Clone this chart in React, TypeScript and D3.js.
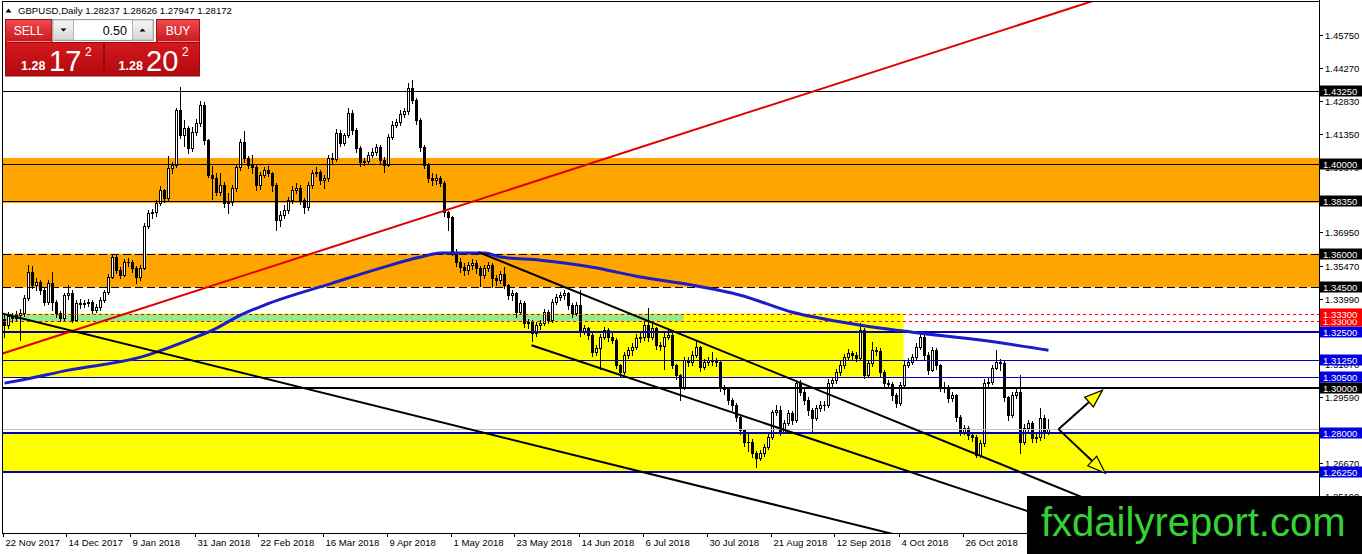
import React from "react";
import * as d3 from "d3";

// ---------------- DATA ----------------
const symbolTitle = "GBPUSD,Daily";
const ohlcText = ["1.28237", "1.28626", "1.27947", "1.28172"];
const bidPrice = 1.28172;
const lotSize = "0.50";

const firstOpen = 1.331;
const closes = [
  1.3282, 1.3322, 1.3313, 1.3326, 1.3335, 1.3402, 1.3518, 1.346, 1.3473, 1.3438,
  1.3384, 1.3469, 1.3384, 1.3335, 1.3313, 1.3415, 1.3424, 1.3304, 1.338, 1.3376,
  1.3382, 1.3384, 1.3348, 1.3362, 1.3393, 1.3429, 1.3496, 1.3585, 1.3527, 1.3505,
  1.3563, 1.3561, 1.3536, 1.3496, 1.3536, 1.3723, 1.3781, 1.3785, 1.3826, 1.3884,
  1.3848, 1.3982, 1.3995, 1.424, 1.4129, 1.416, 1.4071, 1.4142, 1.4182, 1.4263,
  1.4107, 1.3951, 1.3937, 1.3875, 1.3906, 1.3826, 1.383, 1.3893, 1.3986, 1.4098,
  1.4026, 1.3995, 1.3986, 1.3906, 1.3951, 1.3973, 1.3959, 1.3906, 1.375, 1.3772,
  1.3794, 1.3839, 1.3884, 1.3893, 1.3839, 1.3808, 1.3906, 1.3959, 1.3964, 1.3928,
  1.3937, 1.4026, 1.4024, 1.4138, 1.4093, 1.4129, 1.4227, 1.4151, 1.4071, 1.4009,
  1.4013, 1.404, 1.4053, 1.4075, 1.4017, 1.3995, 1.412, 1.4174, 1.4187, 1.4223,
  1.4236, 1.4339, 1.4285, 1.4196, 1.4075, 1.3995, 1.3937, 1.3928, 1.3937, 1.3915,
  1.3785, 1.3763, 1.3607, 1.3563, 1.354, 1.3527, 1.3549, 1.3558, 1.3536, 1.3505,
  1.3536, 1.3549, 1.3491, 1.3482, 1.3509, 1.346, 1.3415, 1.3424, 1.3339, 1.338,
  1.329, 1.3295, 1.3246, 1.3282, 1.329, 1.3339, 1.3304, 1.3384, 1.3406, 1.3415,
  1.3424, 1.3371, 1.3335, 1.3371, 1.325, 1.3268, 1.3237, 1.3161, 1.3179, 1.3228,
  1.3259, 1.3228, 1.3215, 1.3103, 1.3072, 1.3148, 1.317, 1.3184, 1.3224, 1.3228,
  1.3282, 1.3228, 1.3268, 1.3192, 1.319, 1.3228, 1.3237, 1.3103, 1.3059, 1.3001,
  1.3125, 1.3117, 1.3148, 1.3184, 1.3094, 1.3117, 1.3125, 1.3121, 1.3117, 1.3005,
  1.2996, 1.2947, 1.2925, 1.2871, 1.2813, 1.276, 1.2762, 1.2711, 1.2688, 1.2711,
  1.2737, 1.2782, 1.2893, 1.2902, 1.2804, 1.2844, 1.2889, 1.2858, 1.3023, 1.2983,
  1.2947, 1.2902, 1.2867, 1.2911, 1.2925, 1.2927, 1.3023, 1.3036, 1.3072, 1.3103,
  1.3139, 1.3157, 1.3148, 1.3135, 1.3259, 1.3059, 1.3112, 1.317, 1.3168, 1.3072,
  1.3023, 1.3018, 1.2969, 1.2934, 1.3014, 1.3103, 1.3117, 1.3139, 1.3184, 1.3228,
  1.3148, 1.3081, 1.317, 1.3103, 1.3005, 1.3001, 1.2956, 1.2969, 1.2871, 1.2804,
  1.2822, 1.2791, 1.2782, 1.2702, 1.2755, 1.3023, 1.3027, 1.309, 1.3117, 1.3112,
  1.296, 1.288, 1.2969, 1.2983, 1.276, 1.2822, 1.2844, 1.2778, 1.2782, 1.2867,
  1.2804, 1.2817,
];
const highs = [
  1.3335, 1.334, 1.3335, 1.3345, 1.3352, 1.3418, 1.3548, 1.3545, 1.349, 1.3485,
  1.345, 1.3485, 1.3518, 1.3395, 1.3345, 1.3425, 1.346, 1.344, 1.3392, 1.34,
  1.3395, 1.34, 1.3392, 1.3375, 1.3405, 1.344, 1.351, 1.36, 1.3595, 1.354,
  1.3575, 1.358, 1.357, 1.3545, 1.355, 1.3735, 1.3795, 1.38, 1.384, 1.39,
  1.389, 1.4035, 1.401, 1.425, 1.4345, 1.4195, 1.417, 1.4165, 1.42, 1.428,
  1.4275, 1.411, 1.399, 1.396, 1.396, 1.392, 1.387, 1.3905, 1.3995, 1.411,
  1.4147, 1.4035, 1.404, 1.3995, 1.3965, 1.3985, 1.399, 1.3965, 1.3915, 1.379,
  1.3815, 1.3855, 1.39, 1.3915, 1.3905, 1.385, 1.392, 1.3975, 1.3985, 1.3975,
  1.395, 1.404, 1.405, 1.4155, 1.415, 1.414, 1.425, 1.424, 1.416, 1.408,
  1.4025, 1.4055, 1.407, 1.409, 1.4085, 1.403, 1.4135, 1.419, 1.42, 1.424,
  1.425, 1.436, 1.4376, 1.4295, 1.4205, 1.4085, 1.4005, 1.396, 1.3955, 1.3945,
  1.3925, 1.379, 1.377, 1.362, 1.358, 1.356, 1.3565, 1.3575, 1.357, 1.3545,
  1.355, 1.3565, 1.356, 1.3505, 1.3525, 1.354, 1.3465, 1.344, 1.343, 1.3395,
  1.339, 1.331, 1.3305, 1.3295, 1.3305, 1.3355, 1.335, 1.34, 1.342, 1.343,
  1.344, 1.343, 1.338, 1.3385, 1.3438, 1.3282, 1.3275, 1.3245, 1.3195, 1.324,
  1.3275, 1.3268, 1.3255, 1.3225, 1.311, 1.316, 1.3185, 1.32, 1.324, 1.3245,
  1.33, 1.336, 1.3285, 1.3275, 1.3205, 1.3245, 1.327, 1.325, 1.311, 1.3065,
  1.314, 1.314, 1.3165, 1.3215, 1.319, 1.313, 1.314, 1.316, 1.3135, 1.3125,
  1.3015, 1.3, 1.2955, 1.2935, 1.288, 1.282, 1.28, 1.2775, 1.272, 1.2725,
  1.275, 1.2795, 1.2905, 1.2925, 1.292, 1.286, 1.2905, 1.29, 1.3035, 1.3035,
  1.2995, 1.296, 1.291, 1.2925, 1.2945, 1.2945, 1.304, 1.305, 1.3085, 1.312,
  1.3155, 1.3175, 1.3165, 1.316, 1.329, 1.327, 1.3125, 1.3206, 1.3185, 1.318,
  1.308, 1.3035, 1.303, 1.298, 1.303, 1.312, 1.3135, 1.3155, 1.32, 1.3252,
  1.3245, 1.316, 1.3185, 1.318, 1.311, 1.303, 1.3015, 1.2985, 1.2975, 1.288,
  1.2835, 1.283, 1.2805, 1.279, 1.277, 1.304, 1.3045, 1.3105, 1.317, 1.313,
  1.312, 1.2965, 1.2985, 1.3, 1.306, 1.284, 1.286, 1.2855, 1.28, 1.2912,
  1.288, 1.2863,
];
const lows = [
  1.3228, 1.327, 1.3295, 1.33, 1.3215, 1.3322, 1.3395, 1.3448, 1.344, 1.342,
  1.337, 1.3375, 1.3348, 1.332, 1.33, 1.3305, 1.34, 1.3295, 1.3298, 1.336,
  1.3362, 1.3365, 1.3335, 1.334, 1.335, 1.3385, 1.342, 1.349, 1.3515, 1.349,
  1.35, 1.3545, 1.352, 1.347, 1.3485, 1.353, 1.3715, 1.376, 1.377, 1.3815,
  1.383, 1.384, 1.396, 1.3985, 1.4115, 1.408, 1.405, 1.406, 1.413, 1.417,
  1.409, 1.394, 1.3845, 1.386, 1.386, 1.381, 1.3781, 1.3815, 1.388, 1.3975,
  1.401, 1.398, 1.396, 1.3885, 1.389, 1.394, 1.3945, 1.388, 1.3705, 1.3725,
  1.376, 1.378, 1.3825, 1.387, 1.382, 1.378, 1.3795, 1.3895, 1.3945, 1.391,
  1.3893, 1.3925, 1.4005, 1.4015, 1.408, 1.4085, 1.412, 1.4135, 1.4055, 1.399,
  1.3995, 1.4005, 1.403, 1.404, 1.4, 1.3964, 1.399, 1.411, 1.4165, 1.4175,
  1.421, 1.4225, 1.427, 1.418, 1.406, 1.398, 1.392, 1.3905, 1.391, 1.39,
  1.377, 1.3705, 1.3595, 1.3545, 1.352, 1.3505, 1.351, 1.353, 1.3515, 1.3455,
  1.349, 1.3525, 1.345, 1.346, 1.347, 1.3445, 1.34, 1.3395, 1.332, 1.333,
  1.3275, 1.327, 1.321, 1.3235, 1.3265, 1.328, 1.329, 1.3295, 1.3375, 1.3395,
  1.34, 1.3355, 1.332, 1.3325, 1.3235, 1.324, 1.322, 1.3145, 1.315, 1.3085,
  1.322, 1.321, 1.32, 1.309, 1.305, 1.3065, 1.3135, 1.315, 1.3175, 1.3205,
  1.3215, 1.321, 1.322, 1.3175, 1.317, 1.3085, 1.322, 1.309, 1.304, 1.2947,
  1.2995, 1.31, 1.3105, 1.314, 1.3075, 1.3085, 1.3105, 1.3105, 1.31, 1.299,
  1.2975, 1.293, 1.2905, 1.2855, 1.2795, 1.2745, 1.272, 1.2695, 1.265, 1.268,
  1.27, 1.273, 1.2775, 1.288, 1.279, 1.28, 1.2835, 1.284, 1.285, 1.297,
  1.293, 1.288, 1.281, 1.286, 1.29, 1.2905, 1.2915, 1.301, 1.3025, 1.306,
  1.309, 1.313, 1.313, 1.312, 1.3125, 1.3045, 1.305, 1.31, 1.315, 1.3055,
  1.3005, 1.3, 1.295, 1.2916, 1.2925, 1.3005, 1.3095, 1.311, 1.313, 1.3175,
  1.313, 1.3065, 1.3075, 1.3085, 1.299, 1.2985, 1.294, 1.2945, 1.2855, 1.279,
  1.2795, 1.2775, 1.2765, 1.2695, 1.2695, 1.2745, 1.3005, 1.302, 1.3085, 1.308,
  1.2945, 1.286, 1.287, 1.2955, 1.271, 1.275, 1.281, 1.276, 1.276, 1.277,
  1.278, 1.2795,
];

// 200-day moving average read at sample bars
const maBars = [0, 4, 16, 34, 46, 52, 59, 65, 82, 94, 104, 109, 120, 124, 134, 147, 159, 172, 184, 197, 211, 227, 244, 261];
const maValues = [1.3023, 1.3036, 1.3081, 1.3139, 1.3215, 1.3259, 1.3326, 1.3371, 1.3469, 1.3536, 1.3585, 1.3603, 1.3603, 1.3585, 1.3571, 1.354, 1.3496, 1.346, 1.3415, 1.3339, 1.329, 1.325, 1.3215, 1.317];

const dateLabels = ["22 Nov 2017", "14 Dec 2017", "9 Jan 2018", "31 Jan 2018", "22 Feb 2018", "16 Mar 2018", "9 Apr 2018", "1 May 2018", "23 May 2018", "14 Jun 2018", "6 Jul 2018", "30 Jul 2018", "21 Aug 2018", "12 Sep 2018", "4 Oct 2018", "26 Oct 2018"];
const dateBars = [0, 16, 32, 48, 64, 80, 96, 112, 128, 144, 160, 176, 192, 208, 224, 240];

const priceTicks = [1.4575, 1.4427, 1.4283, 1.4135, 1.3987, 1.3839, 1.3695, 1.3547, 1.3399, 1.3251, 1.3107, 1.2959, 1.2815, 1.2667, 1.2519];

const levelPrices = [1.4325, 1.4, 1.3835, 1.36, 1.345, 1.333, 1.33, 1.325, 1.3125, 1.305, 1.3, 1.28, 1.2625];
const levelKinds = ["black", "black", "black", "blackDash", "blackDash", "redDash", "redDash", "blueThick", "blueThin", "blueThin", "blackThick", "blueThick", "blueThick"];

// zones: [low price, high price, end bar (null = to the right edge)]
const orangeZones = [[1.3826, 1.4027], [1.345, 1.36]];
const yellowUpperZone = [1.3051, 1.3334, 224.75];
const greenZone = [1.3298, 1.3331, 169.75];
const yellowLowerZone = [1.2625, 1.28];

// trend lines: [bar1, price1, bar2, price2], drawn from barFrom to barTo
const redLine = [0, 1.3158, 200, 1.4311];
const redRange = [-3, 280];
const longLine = [0, 1.3331, 200, 1.2448];
const longRange = [-3, 260];
const channelUpper = [118.5, 1.3607, 268.25, 1.2523];
const channelUpperRange = [118.5, 285];
const channelLower = [131.75, 1.3192, 260, 1.2427];
const channelLowerRange = [131.75, 285];

const arrowStart = [263.5, 1.2818];
const arrowUpTip = [274.5, 1.2992];
const arrowDownTip = [275.2, 1.2621];

const sellPrice = ["1.28", "17", "2"];
const buyPrice = ["1.28", "20", "2"];
const watermark = "fxdailyreport.com";

// ---------------- LAYOUT ----------------
const W = 1362;
const H = 554;
const PL = 3;
const PR = 1319;
const PT = 1;
const PB = 533;
const FONT = "'Liberation Sans', Arial, sans-serif";

const x = d3.scaleLinear().domain([0, 261]).range([4.5, 1048.5]);
const y = d3.scaleLinear().domain([1.2667, 1.4575]).range([463, 35]);

const levelStyle: Record<string, { color: string; width: number; dash?: string; bg: string }> = {
  black: { color: "#000", width: 1, bg: "#000" },
  blackDash: { color: "#000", width: 1, dash: "8,4", bg: "#000" },
  redDash: { color: "#ff0000", width: 1, dash: "3,3", bg: "#ff0000" },
  blueThick: { color: "#0000b4", width: 2, bg: "#0000e0" },
  blueThin: { color: "#0000b4", width: 1, bg: "#0000e0" },
  blackThick: { color: "#000", width: 2, bg: "#000" },
};

function crisp(v: number, w: number) {
  return w % 2 === 1 ? Math.round(v) + 0.5 : Math.round(v);
}

function linePts(def: number[], range: number[]) {
  const [b1, p1, b2, p2] = def;
  const s = (p2 - p1) / (b2 - b1);
  const pa = p1 + s * (range[0] - b1);
  const pb = p1 + s * (range[1] - b1);
  return { x1: x(range[0]), y1: y(pa), x2: x(range[1]), y2: y(pb) };
}

function Arrow({ from, to, fill }: { from: number[]; to: number[]; fill: string }) {
  const x0 = x(from[0]), y0 = y(from[1]);
  const x1 = x(to[0]), y1 = y(to[1]);
  const dx = x1 - x0, dy = y1 - y0;
  const len = Math.hypot(dx, dy);
  const ux = dx / len, uy = dy / len;
  const nx = -uy, ny = ux;
  const L = 18, hw = 6.5;
  const bx = x1 - ux * L, by = y1 - uy * L;
  const pts = [
    [x1, y1],
    [bx + nx * hw, by + ny * hw],
    [bx - nx * hw, by - ny * hw],
  ];
  return (
    <g>
      <line x1={x0} y1={y0} x2={bx} y2={by} stroke="#000" strokeWidth={2} />
      <polygon points={pts.map((p) => p.join(",")).join(" ")} fill={fill} stroke="#000" strokeWidth={1.2} strokeLinejoin="miter" />
    </g>
  );
}

export default function App() {
  React.useEffect(() => {
    document.body.style.margin = "0";
  }, []);

  const candles = closes.map((c, i) => {
    const o = i === 0 ? firstOpen : closes[i - 1];
    const h = Math.max(highs[i], o, c);
    const l = Math.min(lows[i], o, c);
    const cx = x(i);
    const up = c >= o;
    const yt = Math.round(y(Math.max(o, c))) + 0.5;
    const yb = Math.round(y(Math.min(o, c))) + 0.5;
    return (
      <g key={i}>
        <line x1={cx} x2={cx} y1={Math.round(y(h))} y2={Math.round(y(l)) + 1} stroke="#000" strokeWidth={1} />
        {yb - yt < 1 ? (
          <line x1={cx - 1.5} x2={cx + 1.5} y1={yt} y2={yt} stroke="#000" strokeWidth={1} />
        ) : (
          <rect x={cx - 1} y={yt} width={2} height={yb - yt} fill={up ? "#fff" : "#000"} stroke="#000" strokeWidth={1} />
        )}
      </g>
    );
  });

  const maLine = d3
    .line<number>()
    .x((_, i) => x(maBars[i]))
    .y((v) => y(v))
    .curve(d3.curveMonotoneX)(maValues) as string;

  const zoneRect = (lo: number, hi: number, endBar: number | null, fill: string, key: string) => {
    const x2 = endBar == null ? PR : x(endBar);
    return <rect key={key} x={PL} y={y(hi)} width={x2 - PL} height={y(lo) - y(hi)} fill={fill} />;
  };

  // draw labels in ascending price order so higher ones are on top
  const labelOrder = levelPrices.map((p, i) => i).sort((a, b) => levelPrices[a] - levelPrices[b]);

  const red = linePts(redLine, redRange);
  const lng = linePts(longLine, longRange);
  const chU = linePts(channelUpper, channelUpperRange);
  const chL = linePts(channelLower, channelLowerRange);

  return (
    <svg width={W} height={H} style={{ position: "absolute", left: 0, top: 0, display: "block" }} fontFamily={FONT}>
      <defs>
        <clipPath id="plot">
          <rect x={PL} y={PT} width={PR - PL} height={PB - PT} />
        </clipPath>
        <linearGradient id="btnGrad" x1="0" y1="0" x2="0" y2="1">
          <stop offset="0" stopColor="#ef4b4f" />
          <stop offset="1" stopColor="#c71a1f" />
        </linearGradient>
        <linearGradient id="priceGrad" x1="0" y1="0" x2="0" y2="1">
          <stop offset="0" stopColor="#d4191e" />
          <stop offset="1" stopColor="#b00a0f" />
        </linearGradient>
        <linearGradient id="spinGrad" x1="0" y1="0" x2="0" y2="1">
          <stop offset="0" stopColor="#f6f6f6" />
          <stop offset="1" stopColor="#d6d6d6" />
        </linearGradient>
      </defs>
      <rect x={0} y={0} width={W} height={H} fill="#fff" />

      <g clipPath="url(#plot)">
        {/* zones */}
        {orangeZones.map((z, i) => zoneRect(z[0], z[1], null, "#ffa500", "o" + i))}
        {zoneRect(yellowUpperZone[0], yellowUpperZone[1], yellowUpperZone[2], "#ffff00", "yu")}
        {zoneRect(greenZone[0], greenZone[1], greenZone[2], "#90ee90", "g")}
        {zoneRect(yellowLowerZone[0], yellowLowerZone[1], null, "#ffff00", "yl")}

        {/* candles */}
        <g shapeRendering="crispEdges">{candles}</g>

        {/* horizontal levels */}
        {levelPrices.map((p, i) => {
          const st = levelStyle[levelKinds[i]];
          const yy = crisp(y(p), st.width);
          return (
            <line key={"l" + i} x1={PL} x2={PR} y1={yy} y2={yy} stroke={st.color} strokeWidth={st.width} strokeDasharray={st.dash} shapeRendering="crispEdges" />
          );
        })}
        {/* bid line */}
        <line x1={PL} x2={PR} y1={crisp(y(bidPrice), 1)} y2={crisp(y(bidPrice), 1)} stroke="#c0c0c0" strokeWidth={1} shapeRendering="crispEdges" />

        {/* moving average */}
        <path d={maLine} fill="none" stroke="#1c1cc8" strokeWidth={3} strokeLinejoin="round" />

        {/* trend lines */}
        <line {...red} stroke="#e00000" strokeWidth={2} />
        <line {...lng} stroke="#000" strokeWidth={2} />
        <line {...chU} stroke="#000" strokeWidth={2} />
        <line {...chL} stroke="#000" strokeWidth={2} />

        <Arrow from={arrowStart} to={arrowUpTip} fill="#ffff00" />
        <Arrow from={arrowStart} to={arrowDownTip} fill="#ffff00" />
      </g>

      {/* frame */}
      <rect x={PL - 0.5} y={PT + 0.5} width={PR - PL + 0.5} height={PB - PT} fill="none" stroke="#000" strokeWidth={1} shapeRendering="crispEdges" />
      <line x1={PR + 0.5} x2={PR + 0.5} y1={0} y2={PB} stroke="#000" strokeWidth={1} shapeRendering="crispEdges" />

      {/* price axis ticks */}
      {priceTicks.map((p, i) => {
        const yy = Math.round(y(p)) + 0.5;
        return (
          <g key={"t" + i}>
            <line x1={PR} x2={PR + 4} y1={yy} y2={yy} stroke="#000" shapeRendering="crispEdges" />
            <text x={PR + 6} y={yy + 3.3} fontSize={9.5} fill="#000">
              {p.toFixed(5)}
            </text>
          </g>
        );
      })}
      {/* level labels */}
      {labelOrder.map((i) => {
        const st = levelStyle[levelKinds[i]];
        const yy = y(levelPrices[i]);
        return (
          <g key={"lb" + i}>
            <rect x={PR + 1} y={Math.round(yy) - 5.5} width={W - PR - 1} height={11} fill={st.bg} />
            <text x={PR + 4} y={Math.round(yy) + 3.5} fontSize={9.5} fill="#fff">
              {levelPrices[i].toFixed(5)}
            </text>
          </g>
        );
      })}

      {/* time axis */}
      {dateBars.map((b, i) => {
        const tx = Math.round(x(b) - 2) + 0.5;
        return (
          <g key={"d" + i}>
            <line x1={tx} x2={tx} y1={PB} y2={PB + 4} stroke="#000" shapeRendering="crispEdges" />
            <text x={tx + 2} y={546} fontSize={9.6} fill="#000">
              {dateLabels[i]}
            </text>
          </g>
        );
      })}

      {/* header */}
      <polygon points="5.5,12.5 8.5,8.5 11.5,12.5" fill="#000" />
      <text x={18} y={13.5} fontSize={9.6} fill="#000">
        {symbolTitle + "  " + ohlcText.join(" ")}
      </text>

      {/* trade panel */}
      <g>
        <rect x={5.5} y={19.5} width={46.5} height={22} fill="url(#btnGrad)" stroke="#a60c10" />
        <text x={28.5} y={35} fontSize={12} fill="#fff" textAnchor="middle">SELL</text>
        <rect x={52.5} y={19.5} width={101} height={21} fill="#e8e8e8" stroke="#9a9a9a" />
        <rect x={53} y={20} width={20.5} height={20} fill="url(#spinGrad)" stroke="#b5b5b5" />
        <polygon points="60.5,28.5 66.5,28.5 63.5,31.5" fill="#000" />
        <rect x={74} y={20.5} width={58} height={19} fill="#fff" />
        <text x={127} y={34.5} fontSize={12.5} fill="#000" textAnchor="end">{lotSize}</text>
        <rect x={132.5} y={20} width={20.5} height={20} fill="url(#spinGrad)" stroke="#b5b5b5" />
        <polygon points="139.5,31.5 145.5,31.5 142.5,28.5" fill="#000" />
        <rect x={156.5} y={19.5} width={43} height={22} fill="url(#btnGrad)" stroke="#a60c10" />
        <text x={178} y={35} fontSize={12} fill="#fff" textAnchor="middle">BUY</text>
        <line x1={7} x2={51} y1={41.5} y2={41.5} stroke="#f28a8c" />
        <line x1={158} x2={199} y1={41.5} y2={41.5} stroke="#f28a8c" />

        <rect x={5.5} y={42.5} width={98} height={33.5} fill="url(#priceGrad)" stroke="#9a080c" />
        <text x={21} y={70} fontSize={12.5} fontWeight="bold" fill="#fff">{sellPrice[0]}</text>
        <text x={49} y={70.5} fontSize={29} fill="#fff">{sellPrice[1]}</text>
        <text x={85} y={55.5} fontSize={12} fill="#fff">{sellPrice[2]}</text>

        <rect x={104.5} y={42.5} width={95} height={33.5} fill="url(#priceGrad)" stroke="#9a080c" />
        <text x={118.5} y={70} fontSize={12.5} fontWeight="bold" fill="#fff">{buyPrice[0]}</text>
        <text x={146} y={70.5} fontSize={29} fill="#fff">{buyPrice[1]}</text>
        <text x={182} y={55.5} fontSize={12} fill="#fff">{buyPrice[2]}</text>
      </g>

      {/* watermark */}
      <rect x={1027} y={496} width={W - 1027} height={H - 496} fill="#000" />
      <text x={1041} y={536} fontSize={40} fill="#35d235" fontFamily={FONT}>
        {watermark}
      </text>
    </svg>
  );
}
